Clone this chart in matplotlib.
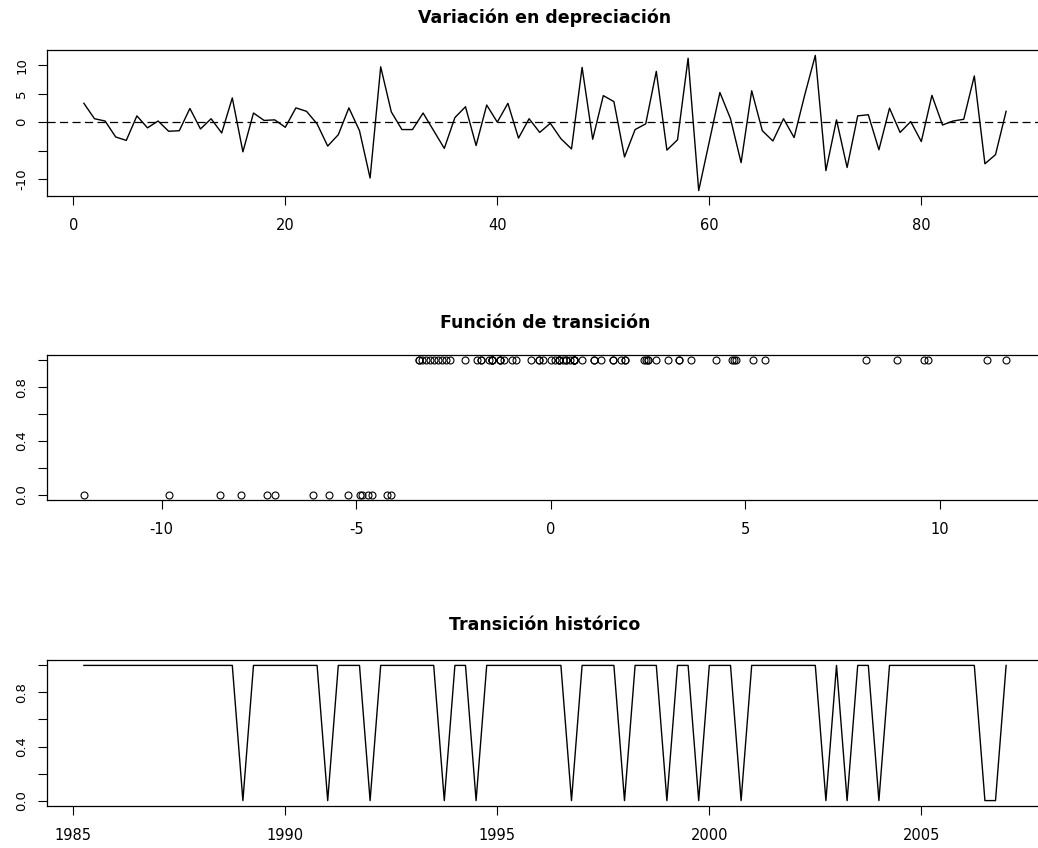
import numpy as np
import matplotlib
matplotlib.use("Agg")
import matplotlib.pyplot as plt

# Quarterly change in depreciation, 88 observations (1985Q2 - 2007Q1)
variacion = [
    3.3, 0.6, 0.2, -2.6, -3.2, 1.1, -1.0, 0.2, -1.6, -1.5,
    2.4, -1.2, 0.6, -1.9, 4.25, -5.2, 1.6, 0.3, 0.4, -0.9,
    2.5, 1.9, -0.3, -4.2, -2.2, 2.5, -1.5, -9.8, 9.7, 1.8,
    -1.3, -1.3, 1.6, -1.5, -4.6, 0.8, 2.7, -4.1, 3.0, 0.0,
    3.3, -2.8, 0.6, -1.8, -0.2, -2.9, -4.7, 9.6, -3.0, 4.65,
    3.6, -6.1, -1.3, -0.3, 8.9, -4.9, -3.1, 11.2, -12.0, -3.4,
    5.2, 0.6, -7.1, 5.5, -1.5, -3.3, 0.6, -2.7, 4.75, 11.7,
    -8.5, 0.4, -7.95, 1.1, 1.3, -4.85, 2.45, -1.8, 0.1, -3.4,
    4.7, -0.5, 0.2, 0.5, 8.1, -7.3, -5.7, 1.9,
]

# Transition value for each observation
transicion = [
    1, 1, 1, 1, 1, 1, 1, 1, 1, 1,
    1, 1, 1, 1, 1, 0, 1, 1, 1, 1,
    1, 1, 1, 0, 1, 1, 1, 0, 1, 1,
    1, 1, 1, 1, 0, 1, 1, 0, 1, 1,
    1, 1, 1, 1, 1, 1, 0, 1, 1, 1,
    1, 0, 1, 1, 1, 0, 1, 1, 0, 1,
    1, 1, 0, 1, 1, 1, 1, 1, 1, 1,
    0, 1, 0, 1, 1, 0, 1, 1, 1, 1,
    1, 1, 1, 1, 1, 0, 0, 1,
]

inicio = 1985.25
paso = 0.25

titulos = ["Variación en depreciación", "Función de transición", "Transición histórico"]

plt.rcParams['font.family'] = ['DejaVu Sans']
plt.rcParams['axes.unicode_minus'] = False

W, H = 1038, 848
fig = plt.figure(figsize=(W / 100, H / 100), dpi=100)

def px_axes(top, bottom, left=47, right=1043):
    return fig.add_axes([left / W, 1 - bottom / H, (right - left) / W, (bottom - top) / H])

def style(ax):
    for s in ax.spines.values():
        s.set_linewidth(0.9)
        s.set_color("black")
    ax.tick_params(axis="both", direction="out", length=6.5, width=0.8,
                   colors="black", top=False, right=False)
    ax.tick_params(axis="x", pad=9.5, labelsize=10.5)
    ax.tick_params(axis="y", pad=7, labelsize=9.5)
    for lab in ax.get_yticklabels():
        lab.set_rotation(90)
        lab.set_va("center")

def pad_lim(lo, hi):
    d = (hi - lo) * 0.04
    return lo - d, hi + d

n = len(variacion)
idx = np.arange(1, n + 1)
fechas = inicio + paso * np.arange(n)

# Panel 1
ax1 = px_axes(50, 196)
ax1.plot(idx, variacion, color="black", lw=1.0)
ax1.axhline(0, color="black", lw=0.9, dashes=(6.5, 3.5))
ax1.set_xlim(*pad_lim(1, n))
ax1.set_ylim(*pad_lim(min(variacion), max(variacion)))
ax1.set_xticks([0, 20, 40, 60, 80])
ax1.set_yticks([-10, -5, 0, 5, 10])
ax1.set_yticklabels(["-10", "", "0", "5", "10"])
style(ax1)

# Panel 2
ax2 = px_axes(355, 500)
ax2.plot(variacion, transicion, linestyle="none", marker="o", markersize=5,
         markerfacecolor="none", markeredgecolor="black", markeredgewidth=0.8)
ax2.set_xlim(*pad_lim(min(variacion), max(variacion)))
ax2.set_ylim(*pad_lim(0, 1))
ax2.set_xticks([-10, -5, 0, 5, 10])
ax2.set_yticks([0, 0.2, 0.4, 0.6, 0.8, 1.0])
ax2.set_yticklabels(["0.0", "", "0.4", "", "0.8", ""])
style(ax2)

# Panel 3
ax3 = px_axes(660, 806)
ax3.plot(fechas, transicion, color="black", lw=1.0)
ax3.set_xlim(*pad_lim(fechas[0], fechas[-1]))
ax3.set_ylim(*pad_lim(0, 1))
ax3.set_xticks([1985, 1990, 1995, 2000, 2005])
ax3.set_yticks([0, 0.2, 0.4, 0.6, 0.8, 1.0])
ax3.set_yticklabels(["0.0", "", "0.4", "", "0.8", ""])
style(ax3)

xc = (47 + 1043) / 2 / W
for titulo, y in zip(titulos, [18, 323, 625]):
    fig.text(xc, 1 - y / H, titulo, ha="center", va="center",
             fontsize=12.5, fontweight="bold")

fig.savefig("out.png", dpi=100)
